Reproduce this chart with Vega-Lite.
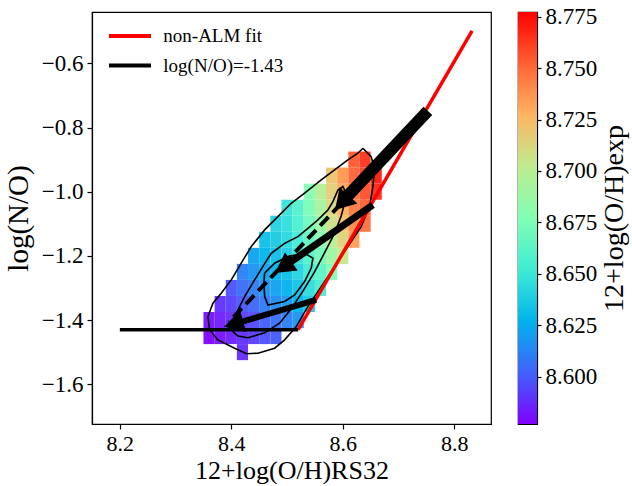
{
  "$schema": "https://vega.github.io/schema/vega-lite/v6.json",
  "autosize": {"type": "pad"},
  "padding": {"left": 3, "top": 5, "right": 0, "bottom": 0},
  "background": "white",
  "spacing": 27,
  "bounds": "flush",
  "config": {
    "font": "Liberation Serif",
    "view": {"stroke": "black", "strokeWidth": 1.2},
    "style": {"guide-label": {"font": "Liberation Serif", "fill": "black"}, "guide-title": {"font": "Liberation Serif", "fill": "black"}},
    "axis": {
      "grid": false,
      "domainColor": "black", "domainWidth": 1.2,
      "tickColor": "black", "tickWidth": 1.2, "tickSize": 5,
      "labelColor": "black", "labelFontSize": 23, "labelPadding": 5, "labelFont": "Liberation Serif",
      "titleColor": "black", "titleFontSize": 29, "titleFontWeight": "normal", "titleFont": "Liberation Serif"
    },
    "legend": {"labelFont": "Liberation Serif", "titleFont": "Liberation Serif", "labelColor": "black", "titleColor": "black", "padding": 0}
  },
  "datasets": {
    "cells": [
      {"x": 8.35, "x2": 8.37, "y": -1.475, "y2": -1.425, "v": 8.578},
      {"x": 8.35, "x2": 8.37, "y": -1.425, "y2": -1.375, "v": 8.581},
      {"x": 8.37, "x2": 8.39, "y": -1.475, "y2": -1.425, "v": 8.581},
      {"x": 8.37, "x2": 8.39, "y": -1.425, "y2": -1.375, "v": 8.584},
      {"x": 8.37, "x2": 8.39, "y": -1.375, "y2": -1.325, "v": 8.589},
      {"x": 8.39, "x2": 8.41, "y": -1.475, "y2": -1.425, "v": 8.585},
      {"x": 8.39, "x2": 8.41, "y": -1.425, "y2": -1.375, "v": 8.588},
      {"x": 8.39, "x2": 8.41, "y": -1.375, "y2": -1.325, "v": 8.593},
      {"x": 8.39, "x2": 8.41, "y": -1.325, "y2": -1.275, "v": 8.598},
      {"x": 8.41, "x2": 8.43, "y": -1.525, "y2": -1.475, "v": 8.588},
      {"x": 8.41, "x2": 8.43, "y": -1.475, "y2": -1.425, "v": 8.589},
      {"x": 8.41, "x2": 8.43, "y": -1.425, "y2": -1.375, "v": 8.592},
      {"x": 8.41, "x2": 8.43, "y": -1.375, "y2": -1.325, "v": 8.599},
      {"x": 8.41, "x2": 8.43, "y": -1.325, "y2": -1.275, "v": 8.605},
      {"x": 8.41, "x2": 8.43, "y": -1.275, "y2": -1.225, "v": 8.611},
      {"x": 8.43, "x2": 8.45, "y": -1.475, "y2": -1.425, "v": 8.593},
      {"x": 8.43, "x2": 8.45, "y": -1.425, "y2": -1.375, "v": 8.596},
      {"x": 8.43, "x2": 8.45, "y": -1.375, "y2": -1.325, "v": 8.603},
      {"x": 8.43, "x2": 8.45, "y": -1.325, "y2": -1.275, "v": 8.610},
      {"x": 8.43, "x2": 8.45, "y": -1.275, "y2": -1.225, "v": 8.617},
      {"x": 8.43, "x2": 8.45, "y": -1.225, "y2": -1.175, "v": 8.622},
      {"x": 8.45, "x2": 8.47, "y": -1.475, "y2": -1.425, "v": 8.597},
      {"x": 8.45, "x2": 8.47, "y": -1.425, "y2": -1.375, "v": 8.601},
      {"x": 8.45, "x2": 8.47, "y": -1.375, "y2": -1.325, "v": 8.609},
      {"x": 8.45, "x2": 8.47, "y": -1.325, "y2": -1.275, "v": 8.616},
      {"x": 8.45, "x2": 8.47, "y": -1.275, "y2": -1.225, "v": 8.622},
      {"x": 8.45, "x2": 8.47, "y": -1.225, "y2": -1.175, "v": 8.627},
      {"x": 8.45, "x2": 8.47, "y": -1.175, "y2": -1.125, "v": 8.632},
      {"x": 8.47, "x2": 8.49, "y": -1.475, "y2": -1.425, "v": 8.600},
      {"x": 8.47, "x2": 8.49, "y": -1.425, "y2": -1.375, "v": 8.606},
      {"x": 8.47, "x2": 8.49, "y": -1.375, "y2": -1.325, "v": 8.614},
      {"x": 8.47, "x2": 8.49, "y": -1.325, "y2": -1.275, "v": 8.621},
      {"x": 8.47, "x2": 8.49, "y": -1.275, "y2": -1.225, "v": 8.627},
      {"x": 8.47, "x2": 8.49, "y": -1.225, "y2": -1.175, "v": 8.632},
      {"x": 8.47, "x2": 8.49, "y": -1.175, "y2": -1.125, "v": 8.637},
      {"x": 8.47, "x2": 8.49, "y": -1.125, "y2": -1.075, "v": 8.640},
      {"x": 8.49, "x2": 8.51, "y": -1.425, "y2": -1.375, "v": 8.611},
      {"x": 8.49, "x2": 8.51, "y": -1.375, "y2": -1.325, "v": 8.619},
      {"x": 8.49, "x2": 8.51, "y": -1.325, "y2": -1.275, "v": 8.626},
      {"x": 8.49, "x2": 8.51, "y": -1.275, "y2": -1.225, "v": 8.632},
      {"x": 8.49, "x2": 8.51, "y": -1.225, "y2": -1.175, "v": 8.638},
      {"x": 8.49, "x2": 8.51, "y": -1.175, "y2": -1.125, "v": 8.643},
      {"x": 8.49, "x2": 8.51, "y": -1.125, "y2": -1.075, "v": 8.646},
      {"x": 8.49, "x2": 8.51, "y": -1.075, "y2": -1.025, "v": 8.648},
      {"x": 8.51, "x2": 8.53, "y": -1.425, "y2": -1.375, "v": 8.617},
      {"x": 8.51, "x2": 8.53, "y": -1.375, "y2": -1.325, "v": 8.627},
      {"x": 8.51, "x2": 8.53, "y": -1.325, "y2": -1.275, "v": 8.634},
      {"x": 8.51, "x2": 8.53, "y": -1.275, "y2": -1.225, "v": 8.641},
      {"x": 8.51, "x2": 8.53, "y": -1.225, "y2": -1.175, "v": 8.647},
      {"x": 8.51, "x2": 8.53, "y": -1.175, "y2": -1.125, "v": 8.652},
      {"x": 8.51, "x2": 8.53, "y": -1.125, "y2": -1.075, "v": 8.656},
      {"x": 8.51, "x2": 8.53, "y": -1.075, "y2": -1.025, "v": 8.659},
      {"x": 8.53, "x2": 8.55, "y": -1.375, "y2": -1.325, "v": 8.636},
      {"x": 8.53, "x2": 8.55, "y": -1.325, "y2": -1.275, "v": 8.645},
      {"x": 8.53, "x2": 8.55, "y": -1.275, "y2": -1.225, "v": 8.652},
      {"x": 8.53, "x2": 8.55, "y": -1.225, "y2": -1.175, "v": 8.659},
      {"x": 8.53, "x2": 8.55, "y": -1.175, "y2": -1.125, "v": 8.665},
      {"x": 8.53, "x2": 8.55, "y": -1.125, "y2": -1.075, "v": 8.670},
      {"x": 8.53, "x2": 8.55, "y": -1.075, "y2": -1.025, "v": 8.675},
      {"x": 8.53, "x2": 8.55, "y": -1.025, "y2": -0.975, "v": 8.678},
      {"x": 8.55, "x2": 8.57, "y": -1.325, "y2": -1.275, "v": 8.655},
      {"x": 8.55, "x2": 8.57, "y": -1.275, "y2": -1.225, "v": 8.663},
      {"x": 8.55, "x2": 8.57, "y": -1.225, "y2": -1.175, "v": 8.672},
      {"x": 8.55, "x2": 8.57, "y": -1.175, "y2": -1.125, "v": 8.680},
      {"x": 8.55, "x2": 8.57, "y": -1.125, "y2": -1.075, "v": 8.687},
      {"x": 8.55, "x2": 8.57, "y": -1.075, "y2": -1.025, "v": 8.693},
      {"x": 8.55, "x2": 8.57, "y": -1.025, "y2": -0.975, "v": 8.698},
      {"x": 8.57, "x2": 8.59, "y": -1.275, "y2": -1.225, "v": 8.677},
      {"x": 8.57, "x2": 8.59, "y": -1.225, "y2": -1.175, "v": 8.689},
      {"x": 8.57, "x2": 8.59, "y": -1.175, "y2": -1.125, "v": 8.699},
      {"x": 8.57, "x2": 8.59, "y": -1.125, "y2": -1.075, "v": 8.707},
      {"x": 8.57, "x2": 8.59, "y": -1.075, "y2": -1.025, "v": 8.712},
      {"x": 8.57, "x2": 8.59, "y": -1.025, "y2": -0.975, "v": 8.716},
      {"x": 8.57, "x2": 8.59, "y": -0.975, "y2": -0.925, "v": 8.720},
      {"x": 8.59, "x2": 8.61, "y": -1.225, "y2": -1.175, "v": 8.704},
      {"x": 8.59, "x2": 8.61, "y": -1.175, "y2": -1.125, "v": 8.714},
      {"x": 8.59, "x2": 8.61, "y": -1.125, "y2": -1.075, "v": 8.722},
      {"x": 8.59, "x2": 8.61, "y": -1.075, "y2": -1.025, "v": 8.728},
      {"x": 8.59, "x2": 8.61, "y": -1.025, "y2": -0.975, "v": 8.732},
      {"x": 8.59, "x2": 8.61, "y": -0.975, "y2": -0.925, "v": 8.736},
      {"x": 8.61, "x2": 8.63, "y": -1.175, "y2": -1.125, "v": 8.734},
      {"x": 8.61, "x2": 8.63, "y": -1.125, "y2": -1.075, "v": 8.740},
      {"x": 8.61, "x2": 8.63, "y": -1.075, "y2": -1.025, "v": 8.745},
      {"x": 8.61, "x2": 8.63, "y": -1.025, "y2": -0.975, "v": 8.749},
      {"x": 8.61, "x2": 8.63, "y": -0.975, "y2": -0.925, "v": 8.752},
      {"x": 8.61, "x2": 8.63, "y": -0.925, "y2": -0.875, "v": 8.755},
      {"x": 8.63, "x2": 8.65, "y": -1.125, "y2": -1.075, "v": 8.748},
      {"x": 8.63, "x2": 8.65, "y": -1.075, "y2": -1.025, "v": 8.753},
      {"x": 8.63, "x2": 8.65, "y": -1.025, "y2": -0.975, "v": 8.757},
      {"x": 8.63, "x2": 8.65, "y": -0.975, "y2": -0.925, "v": 8.761},
      {"x": 8.63, "x2": 8.65, "y": -0.925, "y2": -0.875, "v": 8.764},
      {"x": 8.65, "x2": 8.67, "y": -1.025, "y2": -0.975, "v": 8.767},
      {"x": 8.65, "x2": 8.67, "y": -0.975, "y2": -0.925, "v": 8.770}
    ],
    "contours": [
      {"id": "outer", "i": 0, "x": 8.6361, "y": -0.8646},
      {"id": "outer", "i": 1, "x": 8.6510, "y": -0.8908},
      {"id": "outer", "i": 2, "x": 8.6571, "y": -0.9322},
      {"id": "outer", "i": 3, "x": 8.6540, "y": -0.9842},
      {"id": "outer", "i": 4, "x": 8.6481, "y": -1.0465},
      {"id": "outer", "i": 5, "x": 8.6330, "y": -1.1089},
      {"id": "outer", "i": 6, "x": 8.6092, "y": -1.1711},
      {"id": "outer", "i": 7, "x": 8.5853, "y": -1.2335},
      {"id": "outer", "i": 8, "x": 8.5613, "y": -1.2958},
      {"id": "outer", "i": 9, "x": 8.5374, "y": -1.3580},
      {"id": "outer", "i": 10, "x": 8.5165, "y": -1.4204},
      {"id": "outer", "i": 11, "x": 8.4957, "y": -1.4618},
      {"id": "outer", "i": 12, "x": 8.4777, "y": -1.4877},
      {"id": "outer", "i": 13, "x": 8.4478, "y": -1.5033},
      {"id": "outer", "i": 14, "x": 8.4275, "y": -1.5050},
      {"id": "outer", "i": 15, "x": 8.4060, "y": -1.4877},
      {"id": "outer", "i": 16, "x": 8.3760, "y": -1.4620},
      {"id": "outer", "i": 17, "x": 8.3611, "y": -1.4307},
      {"id": "outer", "i": 18, "x": 8.3581, "y": -1.3892},
      {"id": "outer", "i": 19, "x": 8.3670, "y": -1.3475},
      {"id": "outer", "i": 20, "x": 8.3819, "y": -1.3163},
      {"id": "outer", "i": 21, "x": 8.3999, "y": -1.2749},
      {"id": "outer", "i": 22, "x": 8.4178, "y": -1.2229},
      {"id": "outer", "i": 23, "x": 8.4357, "y": -1.1711},
      {"id": "outer", "i": 24, "x": 8.4598, "y": -1.1191},
      {"id": "outer", "i": 25, "x": 8.4836, "y": -1.0777},
      {"id": "outer", "i": 26, "x": 8.5075, "y": -1.0360},
      {"id": "outer", "i": 27, "x": 8.5315, "y": -1.0048},
      {"id": "outer", "i": 28, "x": 8.5613, "y": -0.9634},
      {"id": "outer", "i": 29, "x": 8.5853, "y": -0.9322},
      {"id": "outer", "i": 30, "x": 8.6092, "y": -0.9010},
      {"id": "outer", "i": 31, "x": 8.6271, "y": -0.8802},
      {"id": "outer", "i": 32, "x": 8.6361, "y": -0.8646},
      {"id": "middle", "i": 0, "x": 8.4029, "y": -1.436},
      {"id": "middle", "i": 1, "x": 8.4060, "y": -1.389},
      {"id": "middle", "i": 2, "x": 8.4239, "y": -1.327},
      {"id": "middle", "i": 3, "x": 8.4418, "y": -1.275},
      {"id": "middle", "i": 4, "x": 8.4567, "y": -1.233},
      {"id": "middle", "i": 5, "x": 8.4716, "y": -1.192},
      {"id": "middle", "i": 6, "x": 8.4956, "y": -1.161},
      {"id": "middle", "i": 7, "x": 8.5195, "y": -1.140},
      {"id": "middle", "i": 8, "x": 8.5374, "y": -1.114},
      {"id": "middle", "i": 9, "x": 8.5554, "y": -1.088},
      {"id": "middle", "i": 10, "x": 8.5733, "y": -1.057},
      {"id": "middle", "i": 11, "x": 8.5823, "y": -1.031},
      {"id": "middle", "i": 12, "x": 8.5913, "y": -0.995},
      {"id": "middle", "i": 13, "x": 8.6002, "y": -0.984},
      {"id": "middle", "i": 14, "x": 8.6062, "y": -1.005},
      {"id": "middle", "i": 15, "x": 8.6032, "y": -1.036},
      {"id": "middle", "i": 16, "x": 8.5973, "y": -1.075},
      {"id": "middle", "i": 17, "x": 8.5853, "y": -1.130},
      {"id": "middle", "i": 18, "x": 8.5674, "y": -1.190},
      {"id": "middle", "i": 19, "x": 8.5494, "y": -1.250},
      {"id": "middle", "i": 20, "x": 8.5285, "y": -1.310},
      {"id": "middle", "i": 21, "x": 8.5075, "y": -1.365},
      {"id": "middle", "i": 22, "x": 8.4866, "y": -1.410},
      {"id": "middle", "i": 23, "x": 8.4598, "y": -1.440},
      {"id": "middle", "i": 24, "x": 8.4298, "y": -1.455},
      {"id": "middle", "i": 25, "x": 8.4119, "y": -1.450},
      {"id": "middle", "i": 26, "x": 8.4029, "y": -1.436},
      {"id": "inner", "i": 0, "x": 8.4598, "y": -1.254},
      {"id": "inner", "i": 1, "x": 8.4777, "y": -1.223},
      {"id": "inner", "i": 2, "x": 8.5016, "y": -1.202},
      {"id": "inner", "i": 3, "x": 8.5315, "y": -1.192},
      {"id": "inner", "i": 4, "x": 8.5464, "y": -1.207},
      {"id": "inner", "i": 5, "x": 8.5434, "y": -1.238},
      {"id": "inner", "i": 6, "x": 8.5315, "y": -1.280},
      {"id": "inner", "i": 7, "x": 8.5136, "y": -1.322},
      {"id": "inner", "i": 8, "x": 8.4956, "y": -1.342},
      {"id": "inner", "i": 9, "x": 8.4657, "y": -1.353},
      {"id": "inner", "i": 10, "x": 8.4598, "y": -1.327},
      {"id": "inner", "i": 11, "x": 8.4585, "y": -1.285},
      {"id": "inner", "i": 12, "x": 8.4598, "y": -1.254}
    ],
    "fits": [
      {"label": "non-ALM fit", "x": 8.52, "y": -1.43},
      {"label": "non-ALM fit", "x": 8.832, "y": -0.499},
      {"label": "log(N/O)=-1.43", "x": 8.2, "y": -1.43},
      {"label": "log(N/O)=-1.43", "x": 8.52, "y": -1.43}
    ],
    "dashed": [
      {"x": 8.5966, "y": -1.0381, "x2": 8.3957, "y2": -1.4057}
    ],
    "arrows": [
      {"id": 1, "x": 8.7527, "y": -0.7484, "x2": 8.6038, "y2": -1.0226, "hx": 8.5982, "hy": -1.0341},
      {"id": 2, "x": 8.6540, "y": -1.0412, "x2": 8.5018, "y2": -1.2247, "hx": 8.4930, "hy": -1.2353},
      {"id": 3, "x": 8.5523, "y": -1.3372, "x2": 8.4144, "y2": -1.4073, "hx": 8.4040, "hy": -1.4126}
    ],
    "colorbar": [
      {"lo": 8.577, "hi": 8.7773}
    ]
  },
  "hconcat": [
    {
      "width": 399,
      "height": 412,
      "encoding": {
        "x": {
          "field": "x", "type": "quantitative",
          "scale": {"domain": [8.15, 8.866], "nice": false, "zero": false},
          "axis": {"values": [8.2, 8.4, 8.6, 8.8], "format": ".1f", "title": "12+log(O/H)RS32",
                   "labelFont": "Liberation Serif", "titleFont": "Liberation Serif", "labelFontSize": 22,
                   "labelPadding": 4, "titlePadding": 3, "titleFontSize": 26}
        },
        "y": {
          "field": "y", "type": "quantitative",
          "scale": {"domain": [-1.724, -0.44], "nice": false, "zero": false},
          "axis": {"values": [-1.6, -1.4, -1.2, -1.0, -0.8, -0.6], "format": ".1f", "title": "log(N/O)",
                   "labelFont": "Liberation Serif", "titleFont": "Liberation Serif", "labelPadding": 4, "titlePadding": 8}
        }
      },
      "layer": [
        {
          "data": {"name": "cells"},
          "mark": {"type": "rect", "opacity": 0.95},
          "encoding": {
            "x2": {"field": "x2"},
            "y2": {"field": "y2"},
            "color": {
              "field": "v", "type": "quantitative",
              "scale": {
                "domain": [8.577, 8.602, 8.6271, 8.6521, 8.6772, 8.7022, 8.7272, 8.7523, 8.7773],
                "range": ["#8000ff", "#4062fa", "#00b4ec", "#40ecd4", "#80ffb4", "#bfec8e", "#ffb462", "#ff6232", "#ff0000"],
                "interpolate": "rgb"
              },
              "legend": null
            }
          }
        },
        {
          "data": {"name": "contours"},
          "mark": {"type": "line", "color": "black", "strokeWidth": 1.6, "interpolate": "linear"},
          "encoding": {
            "detail": {"field": "id"},
            "order": {"field": "i", "type": "quantitative"}
          }
        },
        {
          "data": {"name": "fits"},
          "mark": {"type": "line", "strokeWidth": 3.5},
          "encoding": {
            "stroke": {
              "field": "label", "type": "nominal",
              "scale": {"domain": ["non-ALM fit", "log(N/O)=-1.43"], "range": ["#ff0000", "#000000"]},
              "legend": {
                "orient": "none", "legendX": 25.5, "legendY": 11.5, "title": null,
                "symbolType": "M-2,0L2,0", "symbolSize": 441, "symbolStrokeWidth": 4,
                "labelFontSize": 19, "labelFont": "Liberation Serif", "labelOffset": 20.8, "rowPadding": 6.5
              }
            }
          }
        },
        {
          "data": {"name": "dashed"},
          "mark": {"type": "rule", "color": "black", "strokeWidth": 4, "strokeDash": [12, 6]},
          "encoding": {"x2": {"field": "x2"}, "y2": {"field": "y2"}}
        },
        {
          "data": {"name": "arrows"},
          "transform": [{"filter": "datum.id == 1"}],
          "mark": {"type": "rule", "color": "black", "strokeWidth": 12},
          "encoding": {"x2": {"field": "x2"}, "y2": {"field": "y2"}}
        },
        {
          "data": {"name": "arrows"},
          "transform": [{"filter": "datum.id == 2"}],
          "mark": {"type": "rule", "color": "black", "strokeWidth": 7},
          "encoding": {"x2": {"field": "x2"}, "y2": {"field": "y2"}}
        },
        {
          "data": {"name": "arrows"},
          "transform": [{"filter": "datum.id == 3"}],
          "mark": {"type": "rule", "color": "black", "strokeWidth": 6},
          "encoding": {"x2": {"field": "x2"}, "y2": {"field": "y2"}}
        },
        {
          "data": {"name": "arrows"},
          "transform": [{"filter": "datum.id == 1"}],
          "mark": {"type": "point", "shape": "M0,-1L1.2,1L-1.2,1Z", "size": 400, "angle": 223, "filled": true, "color": "black", "opacity": 1},
          "encoding": {"x": {"field": "hx", "type": "quantitative"}, "y": {"field": "hy", "type": "quantitative"}}
        },
        {
          "data": {"name": "arrows"},
          "transform": [{"filter": "datum.id == 2"}],
          "mark": {"type": "point", "shape": "M0,-1L1.1,1L-1.1,1Z", "size": 400, "angle": 235, "filled": true, "color": "black", "opacity": 1},
          "encoding": {"x": {"field": "hx", "type": "quantitative"}, "y": {"field": "hy", "type": "quantitative"}}
        },
        {
          "data": {"name": "arrows"},
          "transform": [{"filter": "datum.id == 3"}],
          "mark": {"type": "point", "shape": "M0,-1L1.1,1L-1.1,1Z", "size": 400, "angle": 254, "filled": true, "color": "black", "opacity": 1},
          "encoding": {"x": {"field": "hx", "type": "quantitative"}, "y": {"field": "hy", "type": "quantitative"}}
        }
      ]
    },
    {
      "width": 19,
      "height": 412,
      "data": {"name": "colorbar"},
      "mark": {
        "type": "rect",
        "fill": {
          "gradient": "linear", "x1": 0, "y1": 1, "x2": 0, "y2": 0,
          "stops": [
            {"offset": 0, "color": "#8000ff"},
            {"offset": 0.125, "color": "#4062fa"},
            {"offset": 0.25, "color": "#00b4ec"},
            {"offset": 0.375, "color": "#40ecd4"},
            {"offset": 0.5, "color": "#80ffb4"},
            {"offset": 0.625, "color": "#bfec8e"},
            {"offset": 0.75, "color": "#ffb462"},
            {"offset": 0.875, "color": "#ff6232"},
            {"offset": 1, "color": "#ff0000"}
          ]
        }
      },
      "encoding": {
        "y": {
          "field": "lo", "type": "quantitative",
          "scale": {"domain": [8.577, 8.7773], "nice": false, "zero": false},
          "axis": {"orient": "right", "values": [8.6, 8.625, 8.65, 8.675, 8.7, 8.725, 8.75, 8.775], "format": ".3f",
                   "tickSize": 4, "labelPadding": 4, "labelFont": "Liberation Serif", "titleFont": "Liberation Serif",
                   "title": "12+log(O/H)exp", "titleAngle": 270, "titleBaseline": "top", "titlePadding": 4, "titleFontSize": 28}
        },
        "y2": {"field": "hi"}
      }
    }
  ]
}
